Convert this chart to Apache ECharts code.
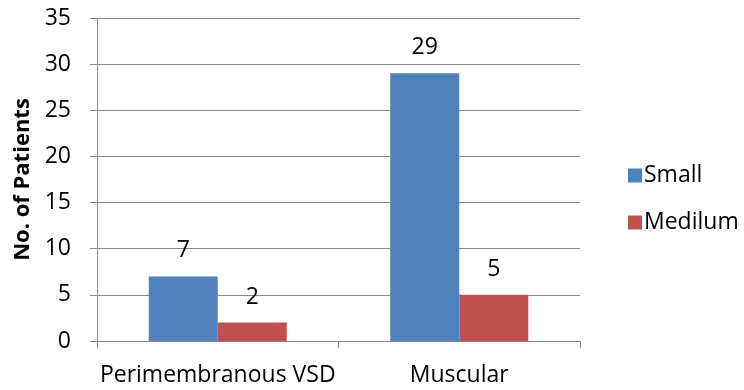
<!DOCTYPE html>
<html>
<head>
<meta charset="utf-8">
<script src="https://cdn.jsdelivr.net/npm/echarts@6/dist/echarts.min.js"></script>
<style>
  html, body { margin: 0; padding: 0; background: #fff; }
  #chart { width: 744px; height: 390px; }
</style>
</head>
<body>
<div id="chart"></div>
<script>
// VSD type vs. defect size
const categories = ['Perimembranous VSD', 'Muscular'];
const smallValues = [7, 29];
const mediumValues = [2, 5];
const seriesNames = ['Small', 'Medilum'];
const yTicks = { min: 0, max: 35, interval: 5 };

const FONT = '"Open Sans", sans-serif';
const chart = echarts.init(document.getElementById('chart'), null, { renderer: 'canvas' });

const labelStyle = {
  show: true,
  position: 'top',
  distance: 14,
  color: '#000',
  fontSize: 23,
  fontFamily: FONT
};

chart.setOption({
  animation: false,
  backgroundColor: '#fff',
  grid: { left: 97, right: 164, top: 18, bottom: 49, containLabel: false },
  legend: {
    orient: 'vertical',
    left: 623,
    top: 159,
    itemWidth: 14,
    itemHeight: 14,
    itemGap: 24,
    icon: 'rect',
    textStyle: { fontSize: 23, fontFamily: FONT, color: '#000', padding: [0, 0, 0, -3] },
    data: seriesNames
  },
  xAxis: {
    type: 'category',
    data: categories,
    axisLine: { lineStyle: { color: '#888', width: 1 } },
    axisTick: { show: true, length: 7, lineStyle: { color: '#888' } },
    axisLabel: { interval: 0, fontSize: 23, fontFamily: FONT, color: '#000', margin: 23 }
  },
  yAxis: {
    type: 'value',
    min: yTicks.min,
    max: yTicks.max,
    interval: yTicks.interval,
    name: 'No. of Patients',
    nameLocation: 'middle',
    nameGap: 63,
    nameTextStyle: { fontSize: 22, fontWeight: 'bold', fontFamily: FONT, color: '#000' },
    axisLine: { show: true, lineStyle: { color: '#888', width: 1 } },
    axisTick: { show: true, length: 7, lineStyle: { color: '#888' } },
    axisLabel: { fontSize: 23, fontFamily: FONT, color: '#000', margin: 26 },
    splitLine: { show: true, lineStyle: { color: '#888', width: 1 } }
  },
  series: [
    {
      name: seriesNames[0],
      type: 'bar',
      data: smallValues,
      barWidth: 69,
      barGap: '0%',
      itemStyle: { color: '#4F81BD' },
      label: labelStyle
    },
    {
      name: seriesNames[1],
      type: 'bar',
      data: mediumValues,
      barWidth: 69,
      barGap: '0%',
      itemStyle: { color: '#C0504D' },
      label: labelStyle
    }
  ]
});
</script>
</body>
</html>
